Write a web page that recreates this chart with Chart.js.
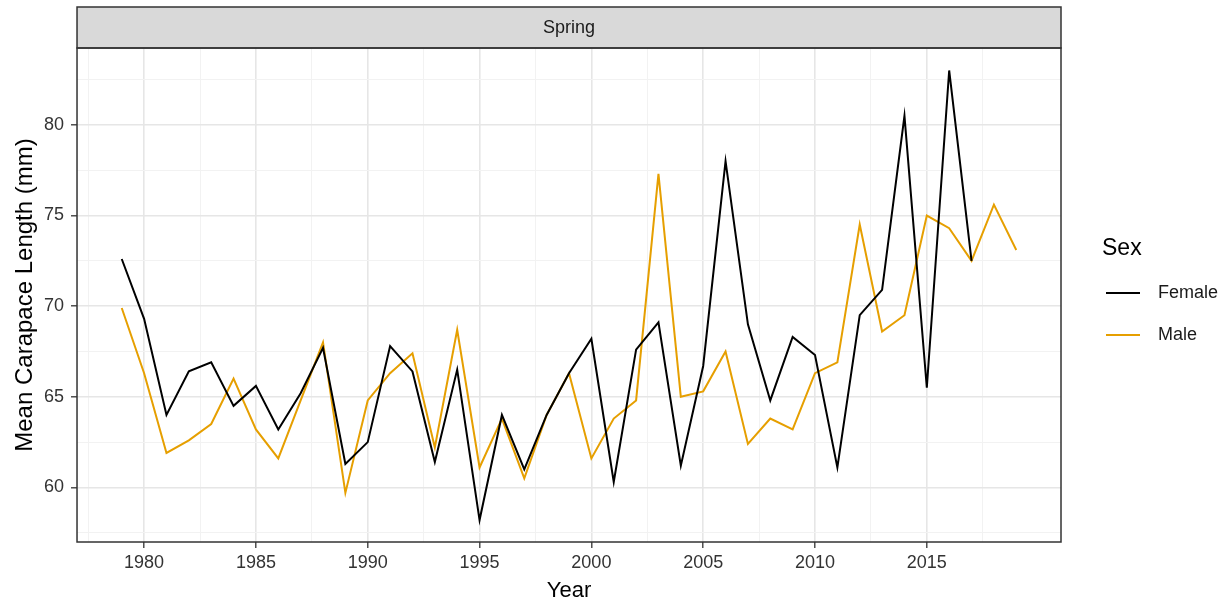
<!DOCTYPE html>
<html>
<head>
<meta charset="utf-8">
<script src="https://cdn.jsdelivr.net/npm/chart.js@4.4.1/dist/chart.umd.min.js"></script>
<style>
  html, body { margin: 0; padding: 0; background: #fff; }
  #wrap { width: 1230px; height: 609px; }
</style>
</head>
<body>
<div id="wrap"><canvas id="chart"></canvas></div>
<script>
// ---- data ----
const femaleYears = [1979,1980,1981,1982,1983,1984,1985,1986,1987,1988,1989,1990,1991,1992,1993,1994,1995,1996,1997,1998,1999,2000,2001,2002,2003,2004,2005,2006,2007,2008,2009,2010,2011,2012,2013,2014,2015,2016,2017];
const femaleCL = [72.6,69.3,64.0,66.4,66.9,64.5,65.6,63.2,65.2,67.7,61.3,62.5,67.8,66.4,61.4,66.5,58.2,64.0,61.0,64.0,66.3,68.2,60.3,67.6,69.1,61.2,66.7,78.0,69.0,64.8,68.3,67.3,61.1,69.5,70.9,80.5,65.5,83.0,72.5];

const maleYears = [1979,1980,1981,1982,1983,1984,1985,1986,1987,1988,1989,1990,1991,1992,1993,1994,1995,1996,1997,1998,1999,2000,2001,2002,2003,2004,2005,2006,2007,2008,2009,2010,2011,2012,2013,2014,2015,2016,2017,2018,2019];
const maleCL = [69.9,66.3,61.9,62.6,63.5,66.0,63.2,61.6,64.8,68.0,59.7,64.8,66.3,67.4,62.2,68.7,61.1,63.8,60.5,64.0,66.3,61.6,63.8,64.8,77.3,65.0,65.3,67.5,62.4,63.8,63.2,66.3,66.9,74.5,68.6,69.5,75.0,74.3,72.5,75.6,73.1];

// tick values (major + minor grid, ggplot style)
const xTicks = [1977.5,1980,1982.5,1985,1987.5,1990,1992.5,1995,1997.5,2000,2002.5,2005,2007.5,2010,2012.5,2015,2017.5];
const yTicks = [57.5,60,62.5,65,67.5,70,72.5,75,77.5,80,82.5];

const stripLabel = 'Spring';
const legendTitle = 'Sex';
const FONT = "'Liberation Sans', Arial, sans-serif";
const FEMALE_COL = '#000000';
const MALE_COL = '#E69F00';

const isMajor = v => Math.abs(v % 5) < 1e-9;

function toPoints(xs, ys) {
    return xs.map((x, i) => ({ x: x, y: ys[i] }));
}

// legend key: a short line with some empty room after it
function keyLine(color) {
    const c = document.createElement('canvas');
    c.width = 43;
    c.height = 4;
    const g = c.getContext('2d');
    g.strokeStyle = color;
    g.lineWidth = 2;
    g.beginPath();
    g.moveTo(0, 2);
    g.lineTo(34, 2);
    g.stroke();
    return c;
}

// facet strip, panel border and legend title, like ggplot's theme_bw
const panelPlugin = {
    id: 'panel',
    beforeLayout(chart) {
        const lg = chart.legend;
        if (lg && !lg._fixedWidth) {
            const fit = lg.fit.bind(lg);
            lg.fit = function () { fit(); this.width = 169; };
            lg._fixedWidth = true;
        }
    },
    afterLayout(chart) {
        const lg = chart.legend;
        if (!lg) return;
        lg.left = chart.chartArea.right + 21;
        lg.right = lg.left + lg.width;
        lg.top = 260;
        lg.bottom = lg.top + lg.height;
    },
    afterDatasetsDraw(chart) {
        const { ctx, chartArea: a } = chart;
        ctx.save();
        // strip
        const stripH = 41;
        ctx.fillStyle = '#d9d9d9';
        ctx.fillRect(a.left, a.top - stripH, a.right - a.left, stripH);
        ctx.strokeStyle = '#333333';
        ctx.lineWidth = 1.5;
        ctx.strokeRect(a.left, a.top - stripH, a.right - a.left, stripH);
        ctx.fillStyle = '#1a1a1a';
        ctx.font = '18px ' + FONT;
        ctx.textAlign = 'center';
        ctx.textBaseline = 'middle';
        ctx.fillText(stripLabel, (a.left + a.right) / 2, a.top - stripH / 2 + 1);
        // panel border
        ctx.strokeRect(a.left, a.top, a.right - a.left, a.bottom - a.top);
        ctx.restore();
    },
    afterDraw(chart) {
        const ctx = chart.ctx;
        ctx.save();
        ctx.fillStyle = '#000000';
        ctx.font = '23px ' + FONT;
        ctx.textAlign = 'left';
        ctx.textBaseline = 'middle';
        ctx.fillText(legendTitle, chart.chartArea.right + 41, 249);
        ctx.restore();
    }
};

const gridOpts = {
    color: ctx => isMajor(ctx.tick.value) ? '#e6e6e6' : '#f2f2f2',
    lineWidth: ctx => isMajor(ctx.tick.value) ? 1.6 : 1,
    tickColor: ctx => isMajor(ctx.tick.value) ? '#333333' : 'rgba(0,0,0,0)',
    tickLength: 6,
    tickWidth: 1.3
};

new Chart(document.getElementById('chart'), {
    type: 'line',
    data: {
        datasets: [{
            label: 'Female',
            data: toPoints(femaleYears, femaleCL),
            borderColor: FEMALE_COL,
            backgroundColor: FEMALE_COL,
            borderWidth: 2,
            pointRadius: 0,
            pointStyle: keyLine(FEMALE_COL),
            tension: 0
        }, {
            label: 'Male',
            data: toPoints(maleYears, maleCL),
            borderColor: MALE_COL,
            backgroundColor: MALE_COL,
            borderWidth: 2,
            pointRadius: 0,
            pointStyle: keyLine(MALE_COL),
            tension: 0
        }]
    },
    options: {
        responsive: true,
        maintainAspectRatio: false,
        animation: false,
        layout: { padding: { left: 5, top: 48, right: 0, bottom: 5 } },
        plugins: {
            legend: {
                position: 'right',
                align: 'start',
                labels: {
                    usePointStyle: true,
                    pointStyleWidth: 43,
                    color: '#1a1a1a',
                    font: { family: FONT, size: 18 },
                    padding: 24
                }
            },
            tooltip: { enabled: false }
        },
        scales: {
            x: {
                type: 'linear',
                min: 1977,
                max: 2021,
                afterBuildTicks: scale => { scale.ticks = xTicks.map(v => ({ value: v })); },
                ticks: {
                    autoSkip: false,
                    maxRotation: 0,
                    padding: 4,
                    color: '#333333',
                    font: { family: FONT, size: 18 },
                    callback: v => isMajor(v) ? String(v) : ''
                },
                grid: gridOpts,
                border: { display: false },
                title: {
                    display: true,
                    text: 'Year',
                    color: '#000000',
                    font: { family: FONT, size: 22 },
                    padding: { top: 0, bottom: 0 }
                }
            },
            y: {
                type: 'linear',
                min: 56.99,
                max: 84.24,
                afterBuildTicks: scale => { scale.ticks = yTicks.map(v => ({ value: v })); },
                ticks: {
                    autoSkip: false,
                    padding: 7,
                    color: '#333333',
                    font: { family: FONT, size: 18 },
                    callback: v => isMajor(v) ? String(v) : ''
                },
                grid: gridOpts,
                border: { display: false },
                title: {
                    display: true,
                    text: 'Mean Carapace Length (mm)',
                    color: '#000000',
                    font: { family: FONT, size: 24, lineHeight: 1 },
                    padding: { top: 8, bottom: 0 }
                }
            }
        }
    },
    plugins: [panelPlugin]
});
</script>
</body>
</html>
